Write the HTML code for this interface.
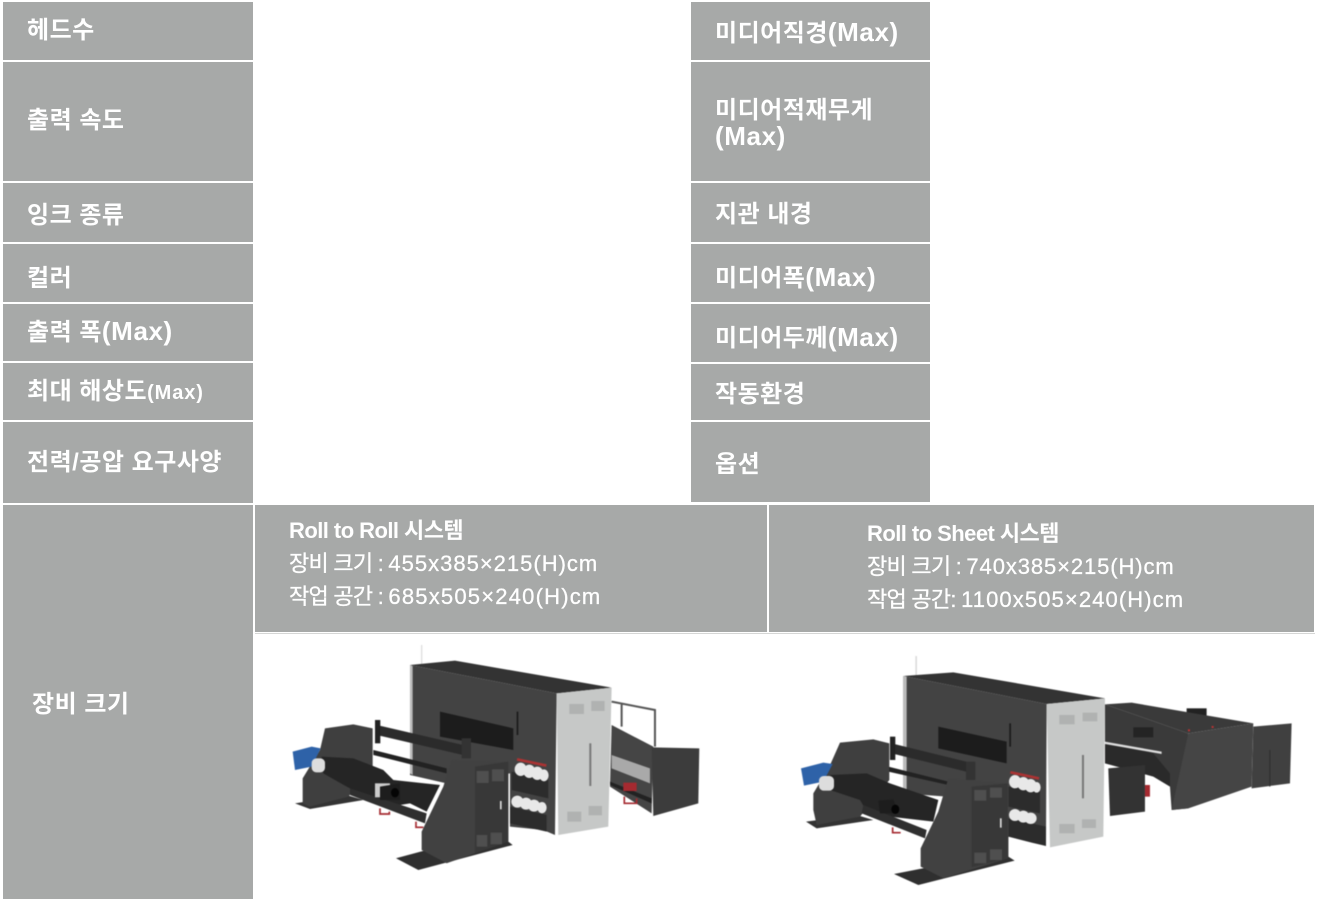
<!DOCTYPE html>
<html lang="ko"><head><meta charset="utf-8"><style>
html,body{margin:0;padding:0;background:#fff;width:1317px;height:901px;overflow:hidden}
.c{position:absolute;background:#a7a9a8}
.t{position:absolute;color:#fff;white-space:nowrap;font-family:"Liberation Sans","Noto Sans CJK KR",sans-serif;font-weight:700;font-size:24px;line-height:26px;letter-spacing:.5px}
.t span{font-size:26px;letter-spacing:.6px}
.s{position:absolute;color:#fff;white-space:nowrap;font-family:"Liberation Sans","Noto Sans CJK KR",sans-serif;font-size:22px;line-height:26px;font-weight:400;letter-spacing:1px;-webkit-text-stroke:.3px #fff}
.s i{font-style:normal;letter-spacing:-.75px}
.b{font-weight:700;letter-spacing:-.55px;-webkit-text-stroke:0}
svg{position:absolute;left:0;top:0;filter:blur(.5px)}
</style></head><body>
<div class="c" style="left:3px;top:2px;width:250px;height:58px"></div>
<div class="c" style="left:3px;top:62px;width:250px;height:119px"></div>
<div class="c" style="left:3px;top:183px;width:250px;height:59px"></div>
<div class="c" style="left:3px;top:244px;width:250px;height:58px"></div>
<div class="c" style="left:3px;top:304px;width:250px;height:57px"></div>
<div class="c" style="left:3px;top:363px;width:250px;height:57px"></div>
<div class="c" style="left:3px;top:422px;width:250px;height:81px"></div>
<div class="c" style="left:3px;top:505px;width:250px;height:394px"></div>
<div class="c" style="left:691px;top:2px;width:239px;height:58px"></div>
<div class="c" style="left:691px;top:62px;width:239px;height:119px"></div>
<div class="c" style="left:691px;top:183px;width:239px;height:59px"></div>
<div class="c" style="left:691px;top:244px;width:239px;height:58px"></div>
<div class="c" style="left:691px;top:304px;width:239px;height:58px"></div>
<div class="c" style="left:691px;top:364px;width:239px;height:56px"></div>
<div class="c" style="left:691px;top:422px;width:239px;height:80px"></div>
<div class="c" style="left:255px;top:505px;width:512px;height:127px"></div>
<div class="c" style="left:769px;top:505px;width:545px;height:127px"></div>
<div style="position:absolute;left:255px;top:633px;width:1060px;height:1px;background:#d5d6d5"></div>

<div class="t" style="left:27px;top:18px">헤드수</div>
<div class="t" style="left:27px;top:108px">출력 속도</div>
<div class="t" style="left:27px;top:203px">잉크 종류</div>
<div class="t" style="left:27px;top:266px">컬러</div>
<div class="t" style="left:27px;top:318px">출력 폭<span>(Max)</span></div>
<div class="t" style="left:27px;top:379px">최대 해상도<span style="font-size:20px;letter-spacing:.9px">(Max)</span></div>
<div class="t" style="left:27px;top:450px">전력/공압 요구사양</div>
<div class="t" style="left:32px;top:692px">장비 크기</div>
<div class="t" style="left:715px;top:19px">미디어직경<span>(Max)</span></div>
<div class="t" style="left:715px;top:98px">미디어적재무게</div>
<div class="t" style="left:715px;top:123px"><span>(Max)</span></div>
<div class="t" style="left:715px;top:202px">지관 내경</div>
<div class="t" style="left:715px;top:264px">미디어폭<span>(Max)</span></div>
<div class="t" style="left:715px;top:324px">미디어두께<span>(Max)</span></div>
<div class="t" style="left:715px;top:382px">작동환경</div>
<div class="t" style="left:715px;top:452px">옵션</div>

<div class="s b" style="left:289px;top:518px">Roll to Roll 시스템</div>
<div class="s" style="left:289px;top:551px"><i>장비 크기 : </i>455x385×215(H)cm</div>
<div class="s" style="left:289px;top:584px;letter-spacing:1.2px"><i>작업 공간 : </i>685x505×240(H)cm</div>
<div class="s b" style="left:867px;top:521px">Roll to Sheet 시스템</div>
<div class="s" style="left:867px;top:554px;letter-spacing:.9px"><i>장비 크기 : </i>740x385×215(H)cm</div>
<div class="s" style="left:867px;top:587px;letter-spacing:1.1px"><i>작업 공간: </i>1100x505×240(H)cm</div>

<svg width="1317" height="901" viewBox="0 0 1317 901">
<g transform="translate(280,640) scale(.3333)">
  <rect x="423" y="15" width="4" height="60" fill="#ddd"/>
  <!-- rear unit -->
  <path d="M995 185 1125 210V320M1025 190V260" fill="none" stroke="#555" stroke-width="6"/>
  <polygon points="995,255 1120,320 1115,520 990,440" fill="#454545"/>
  <polygon points="995,345 1110,385 1110,430 995,385" fill="#a9a9a9"/>
  <polygon points="1115,322 1258,325 1255,490 1120,528" fill="#3c3c3c"/>
  <polygon points="990,425 1115,475 1115,490 990,435" fill="#222"/>
  <rect x="1030" y="428" width="40" height="25" fill="#a52a30"/>
  <path d="M1033 470V490H1070V475" fill="none" stroke="#a52a30" stroke-width="5"/>
  <!-- main -->
  <polygon points="390,75 525,62 995,143 830,160" fill="#333"/>
  <polygon points="390,75 830,160 825,585 790,570 690,560 690,400 500,430 390,405" fill="#434343"/>
  <polygon points="390,75 398,78 398,405 390,400" fill="#bbb"/>
  <polygon points="480,215 700,265 700,330 480,290" fill="#1c1c1c"/>
  <polygon points="830,160 995,143 985,560 835,585" fill="#c6c8c7"/>
  <rect x="928" y="310" width="6" height="128" fill="#777"/>
  <rect x="710" y="215" width="5" height="70" fill="#1a1a1a"/>
  <rect x="868" y="192" width="44" height="30" fill="#b0b2b1"/><rect x="934" y="183" width="40" height="30" fill="#b0b2b1"/>
  <rect x="862" y="515" width="42" height="30" fill="#b0b2b1"/><rect x="926" y="498" width="40" height="28" fill="#b0b2b1"/>
  <!-- ink -->
  <rect x="712" y="354" width="90" height="8" fill="#a33" transform="rotate(12 712 354)"/>
  <polygon points="695,395 805,420 805,475 695,450" fill="#2c2c2c"/>
  <polygon points="690,500 800,525 800,575 690,550" fill="#2c2c2c"/>
  <g fill="#e8e8e8">
    <ellipse cx="722" cy="388" rx="18" ry="20"/><ellipse cx="748" cy="394" rx="18" ry="20"/><ellipse cx="772" cy="400" rx="18" ry="20"/><ellipse cx="792" cy="406" rx="14" ry="18"/>
    <ellipse cx="712" cy="485" rx="18" ry="18"/><ellipse cx="738" cy="491" rx="18" ry="18"/><ellipse cx="762" cy="497" rx="18" ry="18"/><ellipse cx="786" cy="503" rx="14" ry="17"/>
  </g>
  <!-- rails -->
  <polygon points="290,255 570,320 570,350 290,285" fill="#2b2b2b"/>
  <polygon points="280,330 500,385 500,400 280,345" fill="#222"/>
  <rect x="285" y="240" width="16" height="70" fill="#222"/><rect x="545" y="295" width="28" height="60" fill="#333"/>
  <!-- left winder -->
  <polygon points="45,490 90,507 250,480 200,465" fill="#333"/>
  <polygon points="135,265 220,253 278,265 278,380 205,470 90,500 68,490 68,415 120,330" fill="#3f3f3f"/>
  <polygon points="38,335 95,320 122,325 95,380 45,390" fill="#2e62a8"/>
  <polygon points="125,350 220,355 310,390 340,420 480,435 440,515 390,490 360,495 240,460 200,440 130,400" fill="#252525"/>
  <polygon points="210,445 440,520 435,550 210,465" fill="#2f2f2f"/>
  <rect x="95" y="355" width="40" height="42" rx="14" fill="#ddd"/>
  <rect x="285" y="430" width="45" height="42" fill="#ccc"/>
  <polygon points="300,440 360,430 360,480 300,480" fill="#1d1d1d"/>
  <ellipse cx="345" cy="458" rx="12" ry="14" fill="#050505"/>
  <path d="M300 505V522H328V515M408 545V562H430" fill="none" stroke="#a52a30" stroke-width="5"/>
  <!-- front winder -->
  <polygon points="348,655 415,690 698,615 685,605 440,630" fill="#2f2f2f"/>
  <polygon points="515,360 685,365 685,605 500,670 425,630 425,575 490,440" fill="#414141"/>
  <polygon points="585,380 685,365 685,605 585,640" fill="#383838"/>
  <rect x="590" y="393" width="36" height="36" fill="#4f4f4f"/><rect x="636" y="388" width="36" height="36" fill="#4f4f4f"/>
  <rect x="590" y="585" width="32" height="35" fill="#4f4f4f"/><rect x="632" y="578" width="34" height="35" fill="#4f4f4f"/>
  <rect x="660" y="483" width="5" height="25" fill="#ddd"/>
</g>
<g transform="translate(790,640) scale(.3333)">
  <rect x="376" y="48" width="5" height="60" fill="#ddd"/>
  <!-- rear block -->
  <polygon points="1390,260 1505,250 1500,430 1385,445" fill="#404040"/>
  <rect x="1438" y="330" width="3" height="110" fill="#2c2c2c"/>
  <!-- sheet unit -->
  <rect x="1190" y="205" width="60" height="30" fill="#222"/>
  <polygon points="945,193 1025,188 1390,250 1195,280" fill="#3a3a3a"/>
  <polygon points="945,193 1195,280 1195,505 1145,510 1140,440 1090,380 945,310" fill="#3a3a3a"/>
  <polygon points="945,310 1090,340 1140,400 1140,440 1090,410 945,370" fill="#2a2a2a"/>
  <polygon points="945,305 1115,335 1115,342 945,312" fill="#ddd"/>
  <polygon points="1195,280 1390,250 1385,440 1195,505 1145,510" fill="#454545"/>
  <rect x="1030" y="262" width="60" height="30" fill="#242424"/>
  <rect x="1194" y="268" width="6" height="6" fill="#b33"/><rect x="1265" y="258" width="6" height="6" fill="#b33"/>
  <polygon points="955,385 1065,375 1065,515 960,528" fill="#333"/>
  <rect x="1065" y="435" width="15" height="35" fill="#a52a30"/>
  <!-- main -->
  <polygon points="340,108 490,97 945,175 770,192" fill="#333"/>
  <polygon points="340,108 770,192 768,618 730,600 655,590 655,430 470,470 340,460" fill="#434343"/>
  <polygon points="340,108 350,110 350,460 340,462" fill="#bbb"/>
  <polygon points="445,260 650,305 650,370 445,325" fill="#1c1c1c"/>
  <polygon points="770,192 945,175 940,590 780,622" fill="#c6c8c7"/>
  <rect x="876" y="345" width="6" height="130" fill="#777"/>
  <rect x="658" y="250" width="5" height="70" fill="#1a1a1a"/>
  <rect x="808" y="225" width="46" height="28" fill="#b0b2b1"/><rect x="878" y="218" width="44" height="26" fill="#b0b2b1"/>
  <rect x="808" y="552" width="46" height="28" fill="#b0b2b1"/><rect x="876" y="538" width="42" height="26" fill="#b0b2b1"/>
  <!-- ink -->
  <rect x="662" y="393" width="88" height="8" fill="#a33" transform="rotate(12 662 393)"/>
  <polygon points="655,440 750,455 750,520 655,500" fill="#2c2c2c"/>
  <polygon points="655,535 768,560 768,618 725,608 655,590" fill="#2c2c2c"/>
  <g fill="#e8e8e8">
    <ellipse cx="675" cy="425" rx="18" ry="20"/><ellipse cx="700" cy="431" rx="18" ry="20"/><ellipse cx="722" cy="437" rx="18" ry="20"/><ellipse cx="740" cy="442" rx="12" ry="16"/>
    <ellipse cx="675" cy="525" rx="18" ry="18"/><ellipse cx="700" cy="530" rx="18" ry="18"/><ellipse cx="722" cy="535" rx="18" ry="17"/>
  </g>
  <!-- rails -->
  <polygon points="305,310 550,370 550,400 305,340" fill="#2b2b2b"/>
  <polygon points="295,380 475,425 475,435 295,395" fill="#222"/>
  <rect x="300" y="290" width="16" height="70" fill="#222"/><rect x="528" y="365" width="28" height="55" fill="#333"/>
  <!-- left winder -->
  <polygon points="48,545 80,565 250,540 200,525" fill="#333"/>
  <polygon points="150,308 250,298 298,310 298,420 210,530 80,555 70,510 70,460 118,380" fill="#3f3f3f"/>
  <polygon points="33,385 100,368 128,372 100,425 42,437" fill="#2e62a8"/>
  <polygon points="120,405 230,400 300,430 445,480 430,545 300,530 225,505 210,480 120,450" fill="#252525"/>
  <polygon points="220,495 410,570 405,595 215,520" fill="#2f2f2f"/>
  <rect x="87" y="408" width="45" height="44" rx="14" fill="#ddd"/>
  <polygon points="265,482 310,478 325,520 270,520" fill="#1d1d1d"/>
  <ellipse cx="316" cy="508" rx="12" ry="14" fill="#050505"/>
  <path d="M308 562V578H332" fill="none" stroke="#a52a30" stroke-width="5"/>
  <!-- front winder -->
  <polygon points="312,702 385,735 674,662 655,650 400,685" fill="#2f2f2f"/>
  <polygon points="475,415 655,430 655,655 460,715 392,680 392,625 445,515" fill="#414141"/>
  <polygon points="545,440 655,430 655,655 545,682" fill="#383838"/>
  <rect x="553" y="450" width="36" height="32" fill="#4f4f4f"/><rect x="600" y="443" width="36" height="30" fill="#4f4f4f"/>
  <rect x="553" y="638" width="36" height="32" fill="#4f4f4f"/><rect x="600" y="628" width="36" height="32" fill="#4f4f4f"/>
  <rect x="630" y="535" width="5" height="28" fill="#ddd"/>
</g>
</svg>
</body></html>
